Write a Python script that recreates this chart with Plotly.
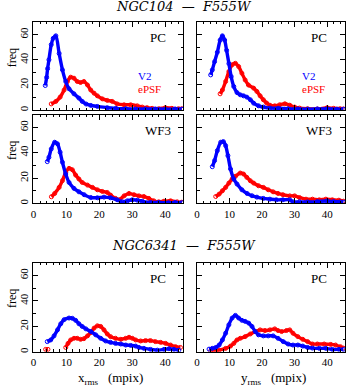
import plotly.graph_objects as go

# ---------------- data ----------------
# NGC104 PC, x_rms
a_v2_x = [3.6, 4.0, 4.3, 4.7, 5.4, 6.0, 6.8, 7.8, 8.8, 9.8, 10.8, 12.3, 13.8, 14.8, 16.0, 17.4, 19.4, 22.4, 25, 28, 31, 34, 37, 40, 43, 45]
a_v2_y = [19.6, 26, 33, 40, 52, 57, 59, 45, 32, 22.8, 17, 13, 9.6, 7, 4.9, 3.8, 3, 2, 1.5, 1.2, 1, 1, 1, 0.8, 1, 0.8]
a_ep_x = [5.4, 6.8, 8.1, 9.3, 10.3, 11.3, 12.3, 13.3, 14.3, 15.3, 16.4, 17.4, 18.4, 19.4, 20.9, 22.4, 23.9, 25.4, 27.5, 29.5, 31.5, 33, 34.5, 36, 38, 40, 42, 44, 45]
a_ep_y = [5, 7, 10.4, 16, 22.8, 26.2, 25.4, 22.8, 22, 22.8, 20, 16, 13.5, 11.4, 9, 7.8, 7, 5, 4.3, 4.3, 3.5, 2.5, 2, 1.5, 1.2, 2, 1.5, 1.2, 1.2]

# NGC104 PC, y_rms
b_v2_x = [4.2, 4.7, 5.4, 6.25, 7.1, 7.8, 8.5, 9.1, 9.8, 10.5, 11.3, 12.3, 13.3, 14.3, 15.3, 16.4, 17.4, 18.9, 20.4, 22.4, 25, 28, 31, 34, 37, 40, 43, 45]
b_v2_y = [28, 32, 38.5, 46, 55.6, 59, 55.6, 47.5, 37, 26.7, 18.8, 14, 12.2, 11.4, 10.4, 8.3, 5.6, 3.5, 2.5, 1.7, 1.5, 1.2, 1, 0.8, 1, 1.2, 0.8, 0.8]
b_ep_x = [7.1, 7.8, 8.8, 9.8, 10.8, 11.8, 12.8, 13.8, 14.8, 15.8, 17.4, 18.4, 19.4, 20.4, 21.4, 22.4, 23.9, 25.4, 27, 28.5, 30, 31.5, 34, 37, 40, 42, 44, 45]
b_ep_y = [13, 16, 22.8, 30.7, 36, 37.2, 34.6, 29.3, 24, 20, 17.5, 14.9, 11.4, 8.3, 5.7, 4, 3.5, 4.3, 5.1, 4, 2.5, 1.7, 1.2, 1, 2, 1.5, 1.2, 1]

# NGC104 WF3, x_rms
c_v2_x = [4.2, 4.7, 5.4, 6.45, 7.3, 8.1, 8.8, 9.8, 10.8, 12.3, 13.8, 15.4, 17.4, 19.4, 21.4, 23.4, 25.4, 27, 28.5, 30, 31.5, 33, 35.5, 38, 41, 43, 45]
c_v2_y = [33, 36.4, 43, 48.3, 47, 40.4, 32.5, 23.2, 16.6, 11.9, 9.2, 6.9, 4.7, 4.5, 5, 4.5, 2.9, 1.3, 2.1, 2.9, 2.6, 1.8, 0.8, 0.8, 0.6, 0.8, 0.6]
c_ep_x = [5.45, 6.45, 7.8, 8.8, 9.8, 10.8, 11.8, 12.8, 13.8, 14.8, 16.4, 17.9, 19.4, 20.9, 22.4, 23.4, 24.9, 26, 27.5, 29, 30.5, 32, 33.5, 35, 36.5, 38, 39.6, 41.6, 43.6, 45]
c_ep_y = [5.3, 7.9, 12.7, 18, 24.5, 27.7, 26.6, 22.4, 19.3, 16.6, 14.5, 12.7, 10.8, 9.5, 8.7, 6.6, 4, 2.9, 6, 7.9, 6.9, 6, 5.5, 4, 2.1, 1.3, 1.8, 2.1, 1.3, 1.0]

# NGC104 WF3, y_rms
d_v2_x = [4.7, 5.4, 6.25, 7.3, 8.1, 8.8, 9.5, 10.3, 11.3, 12.3, 13.8, 15.4, 16.9, 18.4, 20.4, 22.4, 24.4, 26.4, 28.5, 29.5, 31.5, 34, 37, 40, 42, 44, 45]
d_v2_y = [29, 33.8, 41.7, 48.3, 48.8, 45.6, 37.7, 27.2, 19.3, 15.3, 10.8, 7.9, 6.1, 5, 4, 3.4, 2.9, 2.9, 2.9, 1.3, 1.3, 1.2, 1.5, 2, 1.5, 1.2, 1]
d_ep_x = [5.75, 6.8, 7.8, 8.8, 9.8, 10.8, 11.8, 13.3, 14.3, 15.3, 16.4, 17.4, 18.9, 20.4, 21.9, 23.4, 24.9, 26.4, 28.5, 30, 31.5, 33.5, 35.5, 37.6, 39.6, 41.6, 43.6, 45]
d_ep_y = [5.5, 7.4, 10, 12.7, 16.1, 19.3, 21.4, 24, 23.2, 20.6, 17.9, 16.1, 14, 12.7, 10.8, 9.2, 7.9, 6.9, 6, 6, 4.7, 3.4, 3.4, 2.9, 3.4, 2.9, 2.6, 1.8]

# NGC6341 PC, x_rms
e_v2_x = [4.2, 5.25, 6.25, 7.3, 8.3, 9.3, 10.8, 11.8, 12.8, 13.8, 14.8, 15.9, 17.4, 18.9, 20.4, 21.9, 23.4, 24.9, 26.5, 28, 29.5, 31, 32, 33.5, 35.5, 37.6, 39.6, 41.1, 42.6, 44.1]
e_v2_y = [8, 9.3, 12.5, 17.2, 22, 25.2, 26.5, 26.3, 24.7, 22, 19.9, 18, 15.9, 13.3, 10.6, 8.5, 7.4, 6.6, 6.1, 5.3, 5, 4.5, 3.4, 2.7, 1.9, 1.3, 1.9, 2.4, 1.9, 1.3]
e_ep_x = [3.7, 4.4, 7.0, 9.8, 10.5, 11.3, 12.3, 13.3, 14.3, 15.3, 16.4, 17.4, 18.4, 19.4, 20.4, 21.4, 22.4, 23.4, 24.9, 26.5, 28, 29, 30, 31, 32.5, 34, 35.5, 37, 38.6, 40.1, 41.6, 43.1, 44.6]
e_ep_y = [1.9, 1.9, None, 3.4, 6.6, 9.3, 10.6, 10.6, 9.8, 10.3, 12.5, 15.1, 18.6, 20.4, 19.9, 17.2, 14, 11.9, 10.6, 9.8, 10.6, 11.4, 10.6, 9.3, 8.5, 8.8, 8.8, 8, 7.4, 6.6, 5.3, 4, 3.4]

# NGC6341 PC, y_rms
f_v2_x = [3.7, 4.7, 5.75, 6.8, 7.8, 8.8, 9.8, 10.8, 11.8, 12.8, 13.8, 14.8, 15.9, 16.9, 17.9, 18.9, 20.4, 21.9, 23.4, 24.9, 26.5, 28, 29.5, 31, 32.5, 34, 35.5, 37.6, 39.6, 41.6, 43.6, 45]
f_v2_y = [2.1, 2.7, 3.4, 5.3, 9.3, 14.6, 21.2, 26.5, 28.6, 26.5, 24.7, 23.9, 22.5, 19.9, 15.9, 13.3, 12.5, 12.5, 12.5, 10.6, 8, 6.1, 5.3, 5.3, 4.5, 3.4, 2.9, 2.7, 2.7, 1.9, 1.9, 1.9]
f_ep_x = [4.2, 6.8, 8.8, 10.3, 11.3, 12.3, 13.3, 14.8, 16.4, 17.9, 19.4, 20.9, 22.4, 23.9, 24.9, 26, 27.5, 28.5, 29.5, 31, 32.5, 34, 35.5, 37, 39.1, 41.1, 42.6, 44.1, 45]
f_ep_y = [0.8, 1.3, 2.7, 4.5, 6.6, 9.3, 10.6, 11.9, 14, 15.9, 17.2, 16.7, 17.2, 18, 16.7, 15.9, 16.7, 17.2, 14.6, 11.9, 9.8, 8, 6.1, 6.1, 6.1, 5.8, 5.3, 4, 2.9]

panel_labels = ["PC", "PC", "WF3", "WF3", "PC", "PC"]
titles = ["NGC104  —  F555W", "NGC6341  —  F555W"]
series_names = ["V2", "ePSF"]
x_titles = ["x<sub>rms</sub>   (mpix)", "y<sub>rms</sub>   (mpix)"]
y_title = "freq"
x_ticks = [0, 10, 20, 30, 40]
y_ticks = [0, 20, 40, 60]

# ---------------- layout ----------------
W, H = 348, 391
def fx(p): return p / W
def fy(p): return 1 - p / H

BLUE = "rgb(0,0,255)"
RED = "rgb(255,0,0)"
SERIF = "Liberation Serif, Times New Roman, serif"

# (x-domain px, y-domain px, show x labels, show y labels)
geo = [
    ((30.7, 182.0), (22.0, 110.5), False, True),
    ((195.7, 345.0), (22.0, 110.5), False, False),
    ((30.7, 182.0), (115.0, 204.0), True, True),
    ((195.7, 345.0), (115.0, 204.0), True, False),
    ((30.7, 182.0), (263.3, 352.7), True, True),
    ((195.7, 345.0), (263.3, 352.7), True, False),
]

data = [
    (a_v2_x, a_v2_y, a_ep_x, a_ep_y),
    (b_v2_x, b_v2_y, b_ep_x, b_ep_y),
    (c_v2_x, c_v2_y, c_ep_x, c_ep_y),
    (d_v2_x, d_v2_y, d_ep_x, d_ep_y),
    (e_v2_x, e_v2_y, e_ep_x, e_ep_y),
    (f_v2_x, f_v2_y, f_ep_x, f_ep_y),
]

fig = go.Figure()
layout = dict(
    width=W, height=H,
    margin=dict(l=0, r=0, t=0, b=0),
    paper_bgcolor="white", plot_bgcolor="white",
    showlegend=False,
    font=dict(family=SERIF, size=11, color="black"),
)

annotations = []
for i, ((xd, yd, showx, showy), (vx, vy, ex, ey)) in enumerate(zip(geo, data)):
    n = i + 1
    xa = "x" if n == 1 else f"x{n}"
    ya = "y" if n == 1 else f"y{n}"
    for xs, ys, col in ((ex, ey, RED), (vx, vy, BLUE)):
        fig.add_trace(go.Scatter(
            x=xs, y=ys, xaxis=xa, yaxis=ya, mode="lines+markers",
            line=dict(color=col, width=3.4, shape="spline", smoothing=0.8),
            marker=dict(symbol="circle-open", size=4, color=col, line=dict(width=1, color=col)),
            cliponaxis=True,
        ))
    common = dict(showline=True, linecolor="black", linewidth=1, mirror="allticks",
                  ticks="inside", ticklen=5, tickwidth=1, tickcolor="black",
                  showgrid=False, zeroline=False,
                  tickfont=dict(family=SERIF, size=11, color="black"))
    layout["xaxis" if n == 1 else f"xaxis{n}"] = dict(
        common, domain=[fx(xd[0]), fx(xd[1])], range=[0, 45.5], anchor=ya,
        tickvals=x_ticks, showticklabels=showx,
        minor=dict(dtick=2, tick0=0, ticklen=2.5, ticks="inside", tickcolor="black", tickwidth=1),
    )
    layout["yaxis" if n == 1 else f"yaxis{n}"] = dict(
        common, domain=[fy(yd[1]), fy(yd[0])], range=[0, 70], anchor=xa,
        tickvals=y_ticks, showticklabels=showy, tickangle=-90,
        minor=dict(dtick=10, tick0=0, ticklen=2.5, ticks="inside", tickcolor="black", tickwidth=1),
    )
    # panel label (PC / WF3)
    annotations.append(dict(xref="paper", yref="paper", x=fx(xd[1] - 26), y=fy(yd[0] + 15.5),
                            text=panel_labels[i], showarrow=False, xanchor="center", yanchor="middle",
                            font=dict(family=SERIF, size=13, color="black")))
    if showy:
        annotations.append(dict(xref="paper", yref="paper", x=fx(8.5), y=fy(yd[0] + 36),
                                text=y_title, textangle=-90, showarrow=False,
                                xanchor="center", yanchor="middle",
                                font=dict(family=SERIF, size=12, color="black")))
    if i < 2:
        annotations.append(dict(xref="paper", yref="paper", x=fx(xd[0] + 103.5), y=fy(76.3),
                                text=series_names[0], showarrow=False, xanchor="left", yanchor="middle",
                                font=dict(family=SERIF, size=11, color=BLUE)))
        annotations.append(dict(xref="paper", yref="paper", x=fx(xd[0] + 103.5), y=fy(89),
                                text=series_names[1], showarrow=False, xanchor="left", yanchor="middle",
                                font=dict(family=SERIF, size=11, color=RED)))
    if i >= 4:
        annotations.append(dict(xref="paper", yref="paper", x=fx((xd[0] + xd[1]) / 2 + 2), y=fy(390),
                                text=x_titles[i - 4], showarrow=False, xanchor="center", yanchor="bottom",
                                font=dict(family=SERIF, size=13, color="black")))

for t, py in zip(titles, (6.5, 246)):
    annotations.append(dict(xref="paper", yref="paper", x=fx(183), y=fy(py), text=t,
                            showarrow=False, xanchor="center", yanchor="middle",
                            font=dict(family="DejaVu Serif, serif", size=13, color="black", style="italic")))

layout["annotations"] = annotations
fig.update_layout(**layout)
fig.write_html("out.html", config={"displayModeBar": False, "staticPlot": True},
               post_script="document.body.style.margin='0';document.body.style.padding='0';")
